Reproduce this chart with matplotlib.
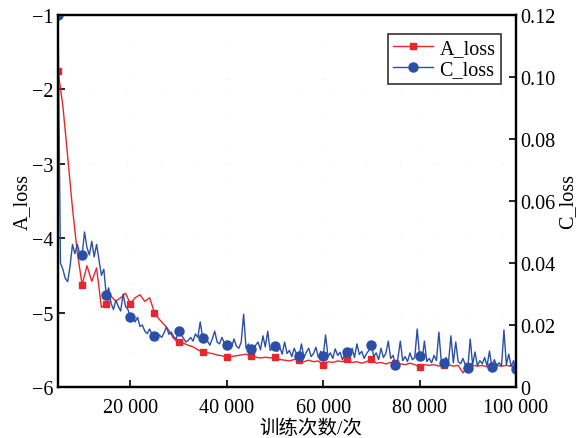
# A_loss / C_loss training curves

import numpy as np
import matplotlib
matplotlib.use("Agg")
import matplotlib.pyplot as plt

plt.rcParams['font.family'] = ['Liberation Serif', 'Noto Sans CJK SC']
plt.rcParams['axes.unicode_minus'] = True

# training steps
steps_a = np.arange(5000, 100001, 1000)
steps_c = np.arange(5000, 100001, 500)

a_loss = [
    -1.75, -2.22, -2.90, -3.60, -4.19, -4.63, -4.37, -4.58, -4.40, -4.93,
    -4.88, -4.78, -4.85, -4.80, -4.74, -4.88, -4.80, -4.76, -4.85, -4.80,
    -5.00, -5.09, -5.16, -5.24, -5.35, -5.40, -5.41, -5.44, -5.46, -5.50,
    -5.53, -5.54, -5.55, -5.57, -5.58, -5.60, -5.59, -5.58, -5.57, -5.56,
    -5.58, -5.60, -5.61, -5.60, -5.61, -5.60, -5.63, -5.64, -5.65, -5.63,
    -5.64, -5.66, -5.64, -5.66, -5.65, -5.70, -5.66, -5.67, -5.65, -5.66,
    -5.63, -5.67, -5.66, -5.68, -5.66, -5.63, -5.68, -5.67, -5.69, -5.67,
    -5.68, -5.69, -5.70, -5.68, -5.70, -5.73, -5.70, -5.71, -5.70, -5.72,
    -5.71, -5.70, -5.72, -5.71, -5.81, -5.72, -5.71, -5.72, -5.71, -5.73,
    -5.72, -5.71, -5.72, -5.71, -5.72, -5.73,
]

c_loss = [
    0.120, 0.040, 0.038, 0.035, 0.034, 0.039, 0.046, 0.043, 0.046, 0.043,
    0.0426, 0.050, 0.045, 0.0426, 0.047, 0.042, 0.046, 0.041, 0.036, 0.038,
    0.0297, 0.032, 0.027, 0.025, 0.028, 0.026, 0.0245, 0.030, 0.026, 0.025,
    0.0226, 0.023, 0.021, 0.0225, 0.0195, 0.020, 0.018, 0.0172, 0.0187, 0.017,
    0.0165, 0.0175, 0.0168, 0.016, 0.0175, 0.0194, 0.017, 0.0177, 0.0162, 0.0155,
    0.018, 0.017, 0.0158, 0.0145, 0.015, 0.016, 0.0148, 0.0171, 0.016, 0.021,
    0.0158, 0.015, 0.0148, 0.0135, 0.0155, 0.018, 0.0145, 0.0139, 0.016, 0.0142,
    0.0135, 0.014, 0.0128, 0.0155, 0.0132, 0.0125, 0.0145, 0.0235, 0.0125, 0.0139,
    0.0123, 0.0118, 0.0135, 0.0145, 0.012, 0.0165, 0.0129, 0.018, 0.0118, 0.0125,
    0.0132, 0.0115, 0.0128, 0.0106, 0.0145, 0.0108, 0.0118, 0.0098, 0.0125, 0.0105,
    0.010, 0.0139, 0.0095, 0.0112, 0.0125, 0.0098, 0.0108, 0.0128, 0.0095, 0.0115,
    0.010, 0.0168, 0.0098, 0.011, 0.0092, 0.0123, 0.0102, 0.0112, 0.0088, 0.0105,
    0.0113, 0.0098, 0.0125, 0.0095, 0.0139, 0.0105, 0.0115, 0.0092, 0.0108, 0.0118,
    0.0135, 0.0098, 0.011, 0.0088, 0.0125, 0.0095, 0.0108, 0.0148, 0.0092, 0.0102,
    0.0071, 0.0092, 0.0148, 0.0085, 0.0098, 0.0082, 0.011, 0.0088, 0.0095, 0.0187,
    0.010, 0.0085, 0.0148, 0.0082, 0.0092, 0.0078, 0.0102, 0.0085, 0.0177, 0.0082,
    0.0077, 0.0095, 0.0080, 0.0165, 0.0078, 0.0145, 0.0082, 0.0075, 0.0092, 0.0071,
    0.0061, 0.0155, 0.0072, 0.0113, 0.0068, 0.0085, 0.0075, 0.0095, 0.0068, 0.0116,
    0.0065, 0.0088, 0.0070, 0.0078, 0.0068, 0.0184, 0.0072, 0.0106, 0.0066, 0.0085,
    0.0058,
]

x_ticks = [20000, 40000, 60000, 80000, 100000]
x_ticklabels = ["20 000", "40 000", "60 000", "80 000", "100 000"]
c_ticks = [0, 0.02, 0.04, 0.06, 0.08, 0.10, 0.12]
c_ticklabels = ["0", "0.02", "0.04", "0.06", "0.08", "0.10", "0.12"]

red = '#e8262b'
blue = '#2a4fa6'

fig = plt.figure(figsize=(5.82, 4.39), dpi=100)
ax = fig.add_axes([0.0997, 0.1162, 0.7869, 0.8474])
ax2 = ax.twinx()

l1, = ax.plot(steps_a, a_loss, color=red, lw=1.0, marker='s', ms=5,
              markevery=5, label='A_loss')
l2, = ax2.plot(steps_c, c_loss, color=blue, lw=1.0, marker='o', ms=6.5,
               markevery=10, label='C_loss')

ax.set_xlim(5000, 100000)
ax.set_ylim(-6, -1)
ax2.set_ylim(0, 0.12)
ax.set_xticks(x_ticks)
ax.set_xticklabels(x_ticklabels)
ax.set_yticks([-6, -5, -4, -3, -2, -1])
ax2.set_yticks(c_ticks)
ax2.set_yticklabels(c_ticklabels)

for a in (ax, ax2):
    for s in a.spines.values():
        s.set_linewidth(1.6)
        s.set_color('black')
    a.tick_params(direction='in', length=5, width=1.2, labelsize=14.5, pad=3)
ax.tick_params(axis='x', pad=8)

ax.grid(True, color='#e4e4e4', lw=0.6, linestyle=(0, (1, 40)))

ax.set_xlabel("训练次数/次", fontsize=14, labelpad=0)
ax.xaxis.set_label_coords(0.552, -0.085)
ax.set_ylabel("A_loss", fontsize=14.5, labelpad=0)
ax2.set_ylabel("C_loss", fontsize=14.5, labelpad=2)

leg = ax2.legend([l1, l2], ['A_loss', 'C_loss'], loc='upper right',
                 bbox_to_anchor=(0.975, 0.96), fontsize=14.5, frameon=True,
                 fancybox=False, handlelength=2.0, handletextpad=0.3,
                 borderpad=0.25, labelspacing=0.1, borderaxespad=0.2)
leg.get_frame().set_edgecolor('black')
leg.get_frame().set_linewidth(1.2)

plt.savefig("out.png", dpi=100)
print("saved out.png")
